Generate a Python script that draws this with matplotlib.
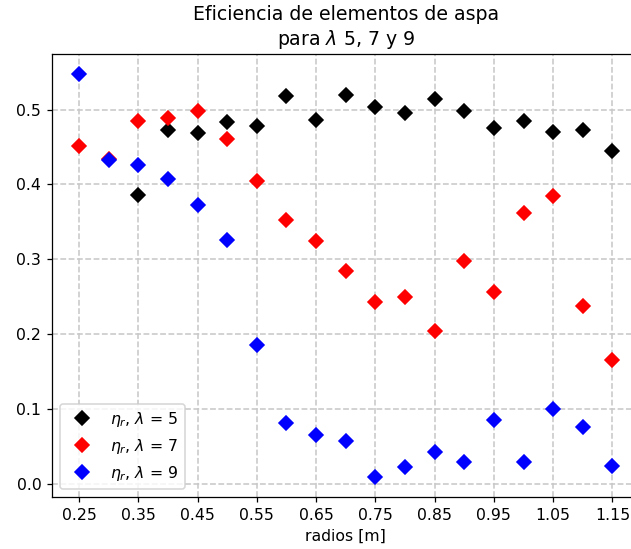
import matplotlib
matplotlib.use("Agg")
import matplotlib.pyplot as plt
import numpy as np

radios_5 = [0.35, 0.40, 0.45, 0.50, 0.55, 0.60, 0.65, 0.70, 0.75, 0.80, 0.85,
            0.90, 0.95, 1.00, 1.05, 1.10, 1.15]
eta_5 = [0.386, 0.472, 0.468, 0.483, 0.478, 0.518, 0.486, 0.520, 0.503, 0.496,
         0.514, 0.498, 0.475, 0.484, 0.470, 0.473, 0.444]

radios_7 = [0.25, 0.30, 0.35, 0.40, 0.45, 0.50, 0.55, 0.60, 0.65, 0.70, 0.75,
            0.80, 0.85, 0.90, 0.95, 1.00, 1.05, 1.10, 1.15]
eta_7 = [0.451, 0.434, 0.485, 0.489, 0.498, 0.460, 0.404, 0.352, 0.324, 0.284,
         0.243, 0.250, 0.204, 0.298, 0.256, 0.362, 0.384, 0.238, 0.165]

radios_9 = [0.25, 0.30, 0.35, 0.40, 0.45, 0.50, 0.55, 0.60, 0.65, 0.70, 0.75,
            0.80, 0.85, 0.90, 0.95, 1.00, 1.05, 1.10, 1.15]
eta_9 = [0.547, 0.432, 0.426, 0.407, 0.373, 0.326, 0.186, 0.081, 0.066, 0.058,
         0.010, 0.023, 0.043, 0.030, 0.086, 0.030, 0.100, 0.076, 0.024]

xticks = [0.25, 0.35, 0.45, 0.55, 0.65, 0.75, 0.85, 0.95, 1.05, 1.15]
xtick_labels = ["0.25", "0.35", "0.45", "0.55", "0.65", "0.75", "0.85", "0.95", "1.05", "1.15"]

dpi = 113
fig = plt.figure(figsize=(631 / dpi, 549 / dpi), dpi=dpi)
ax = fig.add_axes([0.0829, 0.0953, 0.93, 0.806])

ms = 6.6
ax.plot(radios_5, eta_5, 'D', color='black', ms=ms, ls='', label=r'$\eta_r$, $\lambda$ = 5')
ax.plot(radios_7, eta_7, 'D', color='red', ms=ms, ls='', label=r'$\eta_r$, $\lambda$ = 7')
ax.plot(radios_9, eta_9, 'D', color='blue', ms=ms, ls='', label=r'$\eta_r$, $\lambda$ = 9')

ax.set_xticks(xticks)
ax.set_xticklabels(xtick_labels)
ax.grid(True, ls='--', color='#c8c8c8', lw=1.0)
ax.set_axisbelow(True)
ax.set_title('Eficiencia de elementos de aspa\npara $\\lambda$ 5, 7 y 9')
ax.set_xlabel('radios [m]')
ax.legend(loc='lower left')

fig.savefig('out.png', dpi=dpi)
